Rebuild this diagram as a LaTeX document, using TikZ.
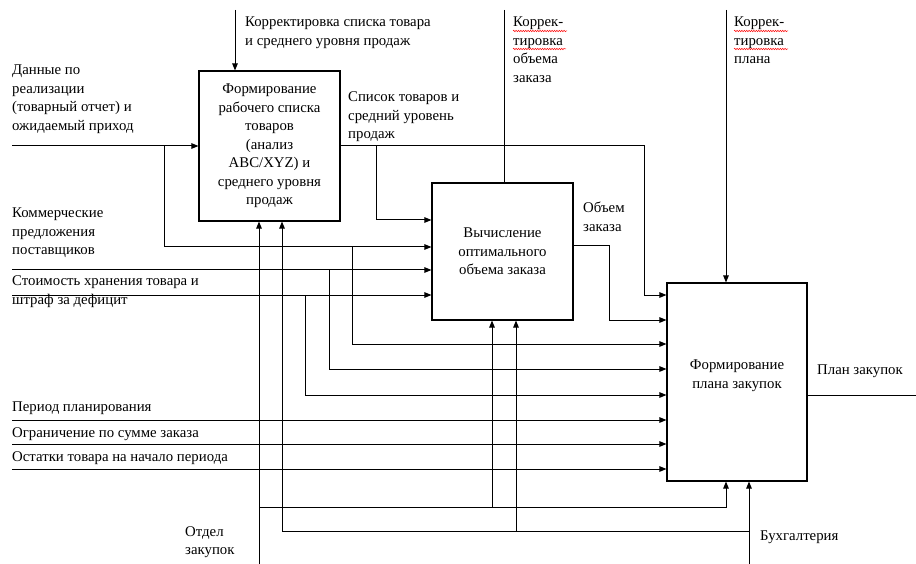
\documentclass[tikz,border=0pt]{standalone}
\usepackage{fontspec}
\setmainfont{Liberation Serif}
\usetikzlibrary{arrows.meta,decorations.pathmorphing}
\begin{document}
\begin{tikzpicture}[x=1pt,y=-1pt,
  every node/.style={font=\fontsize{14.8}{18.5}\selectfont, inner sep=0pt},
  box/.style={draw, line width=1.1pt, rectangle, align=center},
  lbl/.style={anchor=north west, align=left},
  ln/.style={line width=1pt},
  arr/.style={line width=1pt, -{Triangle[length=7pt,width=5.5pt]}},
  wavy/.style={red, line width=0.5pt, decorate, decoration={snake, amplitude=0.7pt, segment length=2.4pt}}]
\useasboundingbox (0,0) rectangle (916,564);

% boxes
\node[box, minimum width=141pt, minimum height=150pt] (A) at (269.5,146)
  {Формирование\\рабочего списка\\товаров\\(анализ\\ABC/XYZ) и\\среднего уровня\\продаж};
\node[box, minimum width=141pt, minimum height=137pt] (B) at (502.5,251.5)
  {Вычисление\\оптимального\\объема заказа};
\node[box, minimum width=140pt, minimum height=198pt] (C) at (737,382) {};
\node[align=center] (Ct) at (737,376) {Формирование\\плана закупок};

% labels
\node[lbl] (lcA) at (245,17) {Корректировка списка товара\\и среднего уровня продаж};
\node[lbl] (lin1) at (12,65) {Данные по\\реализации\\(товарный отчет) и\\ожидаемый приход};
\node[lbl] (lin2) at (12,208) {Коммерческие\\предложения\\поставщиков};
\node[lbl] (lin3) at (12,276) {Стоимость хранения товара и\\штраф за дефицит};
\node[lbl] (lin4) at (12,402) {Период планирования};
\node[lbl] (lin5) at (12,427) {Ограничение по сумме заказа};
\node[lbl] (lin6) at (12,451) {Остатки товара на начало периода};
\node[lbl] (loA) at (348,92) {Список товаров и\\средний уровень\\продаж};
\node[lbl] (lcB) at (513,17) {Коррек-\\тировка\\объема\\заказа};
\node[lbl] (lcC) at (734,17) {Коррек-\\тировка\\плана};
\node[lbl] (loB) at (583,202) {Объем\\заказа};
\node[lbl] (loC) at (817,365) {План закупок};
\node[lbl] (lm1) at (185,526) {Отдел\\закупок};
\node[lbl] (lm2) at (760,531) {Бухгалтерия};

% spell-check marks
\draw[wavy] (513,31) -- (567,31);
\draw[wavy] (513,49) -- (566,49);
\draw[wavy] (734,31) -- (788,31);
\draw[wavy] (734,49) -- (788,49);

% coordinates
\coordinate (tA) at (235,10);
\coordinate (tB) at (504,10);
\coordinate (tC) at (726,10);
\coordinate (i1) at (12,146);
\coordinate (i2) at (12,270);
\coordinate (i3) at (12,295);
\coordinate (i4) at (12,420);
\coordinate (i5) at (12,444);
\coordinate (i6) at (12,469);
\coordinate (j1) at (164,146);
\coordinate (j1b) at (164,247);
\coordinate (j2) at (352,247);
\coordinate (j2b) at (352,344);
\coordinate (j3) at (329,270);
\coordinate (j3b) at (329,369);
\coordinate (j4) at (305,295);
\coordinate (j4b) at (305,395);
\coordinate (oA1) at (644,146);
\coordinate (oA2) at (644,295);
\coordinate (jA) at (376,146);
\coordinate (jAb) at (376,220);
\coordinate (oB0) at (573,246);
\coordinate (oB1) at (609,246);
\coordinate (oB2) at (609,320);
\coordinate (oC) at (916,395);
\coordinate (m1) at (259,564);
\coordinate (m1j) at (259,507);
\coordinate (m1e) at (726,507);
\coordinate (m1b) at (492,507);
\coordinate (m2) at (749,564);
\coordinate (m2j) at (749,531);
\coordinate (m2e) at (282,531);
\coordinate (m2b) at (516,531);

% controls
\draw[arr] (tA) -- (tA |- A.north);
\draw[ln] (tB) -- (tB |- B.north);
\draw[arr] (tC) -- (tC |- C.north);

% inputs
\draw[arr] (i1) -- (i1 -| A.west);
\draw[arr] (j1) -- (j1b) -- (j1b -| B.west);
\draw[arr] (j2) -- (j2b) -- (j2b -| C.west);
\draw[arr] (i2) -- (i2 -| B.west);
\draw[arr] (j3) -- (j3b) -- (j3b -| C.west);
\draw[arr] (i3) -- (i3 -| B.west);
\draw[arr] (j4) -- (j4b) -- (j4b -| C.west);
\draw[arr] (i4) -- (i4 -| C.west);
\draw[arr] (i5) -- (i5 -| C.west);
\draw[arr] (i6) -- (i6 -| C.west);

% outputs
\draw[arr] (oA1 -| A.east) -- (oA1) -- (oA2) -- (oA2 -| C.west);
\draw[arr] (jA) -- (jAb) -- (jAb -| B.west);
\draw[arr] (oB0 -| B.east) -- (oB1) -- (oB2) -- (oB2 -| C.west);
\draw[ln] (oC -| C.east) -- (oC);

% mechanisms
\draw[arr] (m1) -- (m1 |- A.south);
\draw[arr] (m1j) -- (m1e) -- (m1e |- C.south);
\draw[arr] (m1b) -- (m1b |- B.south);
\draw[arr] (m2) -- (m2 |- C.south);
\draw[arr] (m2j) -- (m2e) -- (m2e |- A.south);
\draw[arr] (m2b) -- (m2b |- B.south);
\end{tikzpicture}
\end{document}
